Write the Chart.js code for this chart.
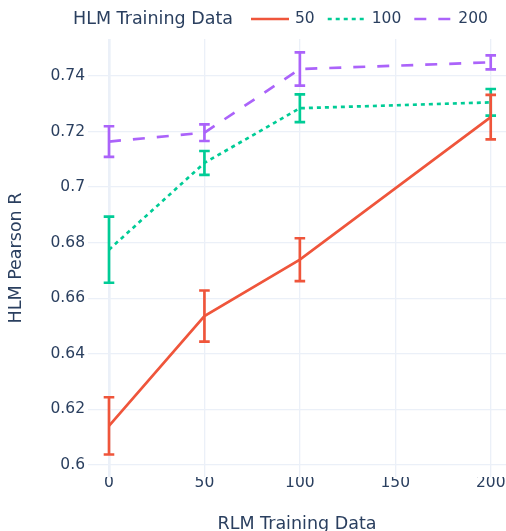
<!DOCTYPE html>
<html lang="en">
<head>
  <meta charset="UTF-8">
  <title>HLM Pearson R vs RLM Training Data</title>
  <script src="https://cdn.jsdelivr.net/npm/chart.js"></script>
  <style>
    html, body { margin: 0; padding: 0; background: #fff; }
    #wrap { width: 506px; height: 531px; }
  </style>
</head>
<body>
  <div id="wrap"><canvas id="chart" width="506" height="531"></canvas></div>

<script>
  // data
  const xValues = [0, 50, 100, 200];
  const seriesNames = ['50', '100', '200'];
  const series50 = [0.6141, 0.6536, 0.6739, 0.7252];
  const err50 = [0.0103, 0.0092, 0.0077, 0.0080];
  const series100 = [0.6775, 0.7087, 0.7284, 0.7305];
  const err100 = [0.0119, 0.0043, 0.0050, 0.0048];
  const series200 = [0.7164, 0.7196, 0.7425, 0.7449];
  const err200 = [0.0055, 0.0030, 0.0060, 0.0025];
  const xTicks = [0, 50, 100, 150, 200];
  const yTicks = [0.6, 0.62, 0.64, 0.66, 0.68, 0.7, 0.72, 0.74];
  const yTickLabels = ['0.6', '0.62', '0.64', '0.66', '0.68', '0.7', '0.72', '0.74'];
  const legendTitle = 'HLM Training Data';

  const FONT = "'DejaVu Sans', Verdana, sans-serif";
  const TEXT = '#2a3f5f';
  const GRID = '#ebf0f8';
  const LW = 2.67;
  const SMALL = 15.5;
  const BIG = 17.5;

  const styles = [
    { color: '#EF553B', dash: [] },
    { color: '#00CC96', dash: [4, 4] },
    { color: '#AB63FA', dash: [12, 12] }
  ];
  const values = [series50, series100, series200];
  const errors = [err50, err100, err200];

  const datasets = values.map((vals, i) => ({
    label: seriesNames[i],
    data: xValues.map((x, j) => ({ x: x, y: vals[j] })),
    borderColor: styles[i].color,
    backgroundColor: styles[i].color,
    borderDash: styles[i].dash,
    borderWidth: LW,
    pointRadius: 0,
    tension: 0,
    errors: errors[i]
  }));

  // error bars, drawn through the scales
  const errorBars = {
    id: 'errorBars',
    afterDatasetDraw(chart, args) {
      const ds = chart.data.datasets[args.index];
      const xs = chart.scales.x, ys = chart.scales.y;
      const ctx = chart.ctx;
      ctx.save();
      ctx.strokeStyle = ds.borderColor;
      ctx.lineWidth = LW;
      ctx.setLineDash([]);
      ds.data.forEach((p, j) => {
        const px = xs.getPixelForValue(p.x);
        const top = ys.getPixelForValue(p.y + ds.errors[j]);
        const bot = ys.getPixelForValue(p.y - ds.errors[j]);
        ctx.beginPath();
        ctx.moveTo(px, top); ctx.lineTo(px, bot);
        ctx.moveTo(px - 5.3, top); ctx.lineTo(px + 5.3, top);
        ctx.moveTo(px - 5.3, bot); ctx.lineTo(px + 5.3, bot);
        ctx.stroke();
      });
      ctx.restore();
    }
  };

  // plotly-like horizontal legend with inline title
  const topLegend = {
    id: 'topLegend',
    afterDraw(chart) {
      const ctx = chart.ctx;
      const y = 19;
      ctx.save();
      ctx.fillStyle = TEXT;
      ctx.textBaseline = 'middle';
      ctx.textAlign = 'left';
      ctx.font = BIG + 'px ' + FONT;
      let x = 73;
      ctx.fillText(legendTitle, x, y);
      x = 251;
      ctx.font = SMALL + 'px ' + FONT;
      chart.data.datasets.forEach(ds => {
        ctx.strokeStyle = ds.borderColor;
        ctx.lineWidth = LW;
        ctx.setLineDash(ds.borderDash);
        ctx.beginPath();
        ctx.moveTo(x, y); ctx.lineTo(x + 38, y);
        ctx.stroke();
        ctx.fillText(ds.label, x + 44, y);
        x += 44 + ctx.measureText(ds.label).width + 13;
      });
      ctx.restore();
    }
  };

  new Chart(document.getElementById('chart'), {
    type: 'line',
    data: { datasets },
    plugins: [errorBars, topLegend],
    options: {
      responsive: false,
      animation: false,
      layout: { padding: { top: 39, right: 0, bottom: 0, left: 0 } },
      plugins: { legend: { display: false }, tooltip: { enabled: false } },
      scales: {
        x: {
          type: 'linear',
          min: -11,
          max: 208,
          afterBuildTicks: s => { s.ticks = xTicks.map(v => ({ value: v })); },
          afterFit: s => { s.height = 54; },
          border: { display: false },
          grid: {
            color: GRID,
            drawTicks: false,
            lineWidth: c => (c.tick && c.tick.value === 0 ? 2.67 : 1.33)
          },
          ticks: {
            color: TEXT,
            font: { family: FONT, size: SMALL, lineHeight: 1 },
            padding: -2,
            maxRotation: 0,
            autoSkip: false,
            callback: v => String(v)
          },
          title: {
            display: true,
            text: 'RLM Training Data',
            color: TEXT,
            font: { family: FONT, size: BIG, lineHeight: 1 },
            padding: { top: 0, bottom: -2 }
          }
        },
        y: {
          min: 0.5957,
          max: 0.7533,
          afterBuildTicks: s => { s.ticks = yTicks.map(v => ({ value: v })); },
          afterFit: s => { s.width = 88; },
          border: { display: false },
          grid: { color: GRID, drawTicks: false, lineWidth: 1.33 },
          ticks: {
            color: TEXT,
            font: { family: FONT, size: SMALL },
            padding: 3,
            callback: (v, i) => yTickLabels[i]
          },
          title: {
            display: true,
            text: 'HLM Pearson R',
            color: TEXT,
            font: { family: FONT, size: BIG },
            padding: { top: 6, bottom: 0 }
          }
        }
      }
    }
  });
</script>
</body>
</html>
